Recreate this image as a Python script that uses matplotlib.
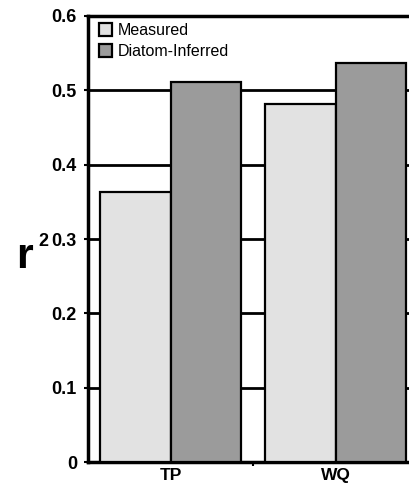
import numpy as np
import matplotlib.pyplot as plt
from matplotlib.patches import Patch

# --- data ---
categories = ["TP", "WQ"]
measured = [0.363, 0.482]
diatom_inferred = [0.511, 0.537]
series_names = ["Measured", "Diatom-Inferred"]
yticks = [0, 0.1, 0.2, 0.3, 0.4, 0.5, 0.6]
ytick_labels = ["0", "0.1", "0.2", "0.3", "0.4", "0.5", "0.6"]

plt.rcParams["font.family"] = ["Liberation Sans", "DejaVu Sans"]

fig = plt.figure(figsize=(4.09, 4.86), dpi=100)
W, H = 409, 486
# axes runs a little past the right edge of the figure, like the cropped original
ax = fig.add_axes([88 / W, 24 / H, 330 / W, 446 / H])

x = np.arange(len(categories))
width = 0.425
light = "#e2e2e2"
dark = "#9b9b9b"
ax.bar(x - width / 2, measured, width, color=light, edgecolor="black", linewidth=1.6, zorder=3)
ax.bar(x + width / 2, diatom_inferred, width, color=dark, edgecolor="black", linewidth=1.6, zorder=3)

ax.set_xlim(-0.5, 1.5)
ax.set_ylim(0, 0.6)
ax.set_yticks(yticks)
ax.set_yticklabels(ytick_labels, fontsize=13, fontweight="bold")
ax.set_xticks(x)
ax.set_xticklabels(categories, fontsize=12.5, fontweight="bold")
ax.set_xticks([0.5], minor=True)
ax.tick_params(axis="x", which="major", length=0, pad=4)
ax.tick_params(axis="x", which="minor", length=3, width=1.5, direction="out")
ax.tick_params(axis="y", length=3, width=1.5, direction="out", pad=5)

# heavy black grid lines behind the bars
ax.yaxis.grid(True, color="black", linewidth=2)
ax.set_axisbelow(True)
for side in ["left", "bottom", "top"]:
    ax.spines[side].set_linewidth(2.5)
ax.spines["right"].set_visible(False)

handles = [Patch(facecolor=light, edgecolor="black", linewidth=1.6),
           Patch(facecolor=dark, edgecolor="black", linewidth=1.6)]
ax.legend(handles, series_names, loc="upper left", bbox_to_anchor=(0.033, 0.985),
          frameon=False, fontsize=11.5, handlelength=0.85, handleheight=0.95,
          handletextpad=0.3, labelspacing=0.35, borderpad=0, borderaxespad=0)

# y label r with superscript 2
fig.text(16 / W, 1 - 268 / H, "r", fontsize=31, fontweight="bold", ha="left", va="baseline")
fig.text(38 / W, 1 - 246 / H, "2", fontsize=13, fontweight="bold", ha="left", va="baseline")

fig.savefig("out.png", dpi=100)
